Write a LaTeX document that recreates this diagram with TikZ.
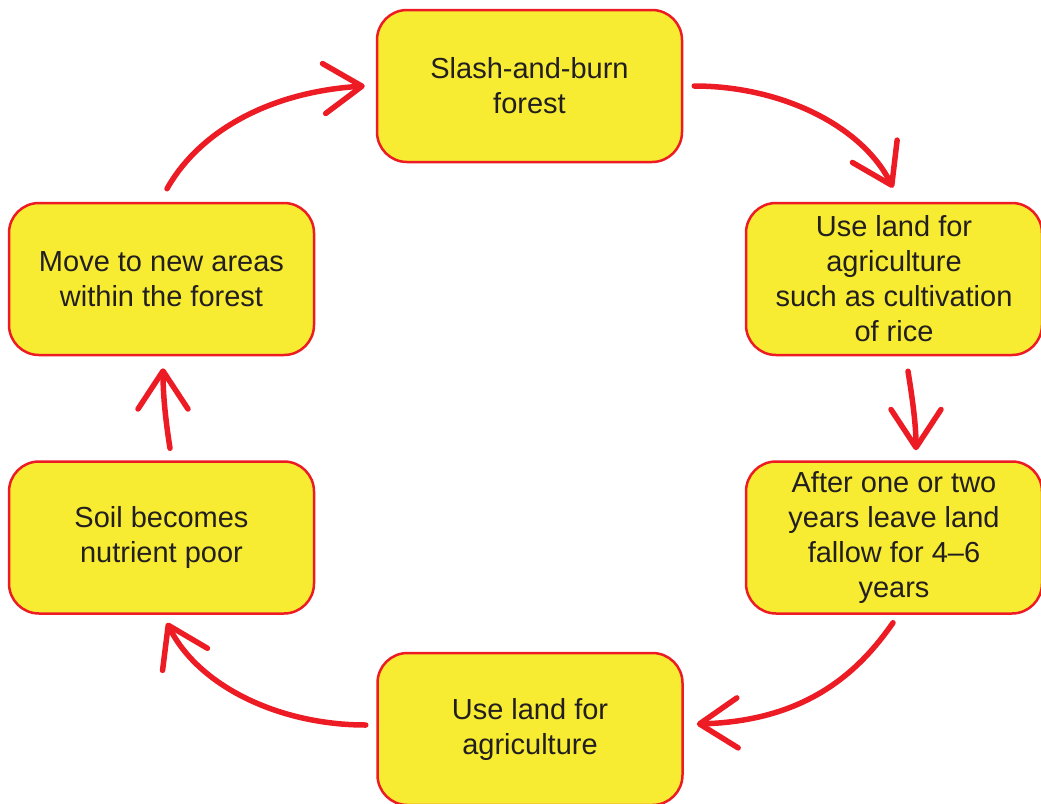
\documentclass[tikz,border=0pt]{standalone}
\usepackage{fontspec}
\setmainfont{Liberation Sans}
\usetikzlibrary{arrows.meta}
\definecolor{boxred}{HTML}{ED1C24}
\definecolor{boxyellow}{HTML}{F7EC31}
\definecolor{txt}{HTML}{231F20}
\begin{document}
\begin{tikzpicture}[x=1pt,y=-1pt,
  box/.style={draw=boxred, line width=2.5pt, fill=boxyellow, rounded corners=30pt,
    minimum width=305pt, minimum height=152pt, inner sep=0pt, align=center,
    text=txt, font=\fontsize{29}{35}\selectfont},
  conn/.style={draw=boxred, line width=5.5pt, line cap=round,
    -{Straight Barb[length=38pt,width=50pt,round]}}]
\useasboundingbox (0,0) rectangle (1041,803);
\node[box] (top) at (529.5,86) {Slash-and-burn\\forest};
\node[box, minimum width=296pt] (r1) at (894,279) {Use land for\\agriculture\\such as cultivation\\of rice};
\node[box, minimum width=296pt] (r2) at (894,537.5) {After one or two\\years leave land\\fallow for 4--6\\years};
\node[box] (bot) at (530,729) {Use land for\\agriculture};
\node[box] (l2) at (161.5,537.5) {Soil becomes\\nutrient poor};
\node[box] (l1) at (161.5,279) {Move to new areas\\within the forest};

\path (top.east) ++(11,0) coordinate (a1s);
\path (r1.north) ++(-1,-14) coordinate (a1e);
\path (r1.south) ++(14,15) coordinate (a2s);
\path (r2.north) ++(22,-10) coordinate (a2e);
\path (r2.south) ++(-1,8) coordinate (a3s);
\path (bot.east) ++(13,-5) coordinate (a3e);
\path (bot.west) ++(-10.5,-4) coordinate (a4s);
\path (l2.south) ++(5.5,8) coordinate (a4e);
\path (l2.north) ++(8.5,-12) coordinate (a5s);
\path (l1.south) ++(1.5,12) coordinate (a5e);
\path (l1.north) ++(5.5,-13) coordinate (a6s);
\path (top.west) ++(-11,0) coordinate (a6e);

\draw[conn] (a1s) .. controls +(87,0) and +(-31,-62) .. (a1e);
\draw[conn] (a2s) .. controls +(4,25) and +(0,-27) .. (a2e);
\draw[conn] (a3s) .. controls +(-34,49) and +(110,-3) .. (a3e);
\draw[conn] (a4s) .. controls +(-87,0) and +(31,63) .. (a4e);
\draw[conn] (a5s) .. controls +(-4,-25) and +(0,28) .. (a5e);
\draw[conn] (a6s) .. controls +(32,-57) and +(-96,6) .. (a6e);
\end{tikzpicture}
\end{document}
